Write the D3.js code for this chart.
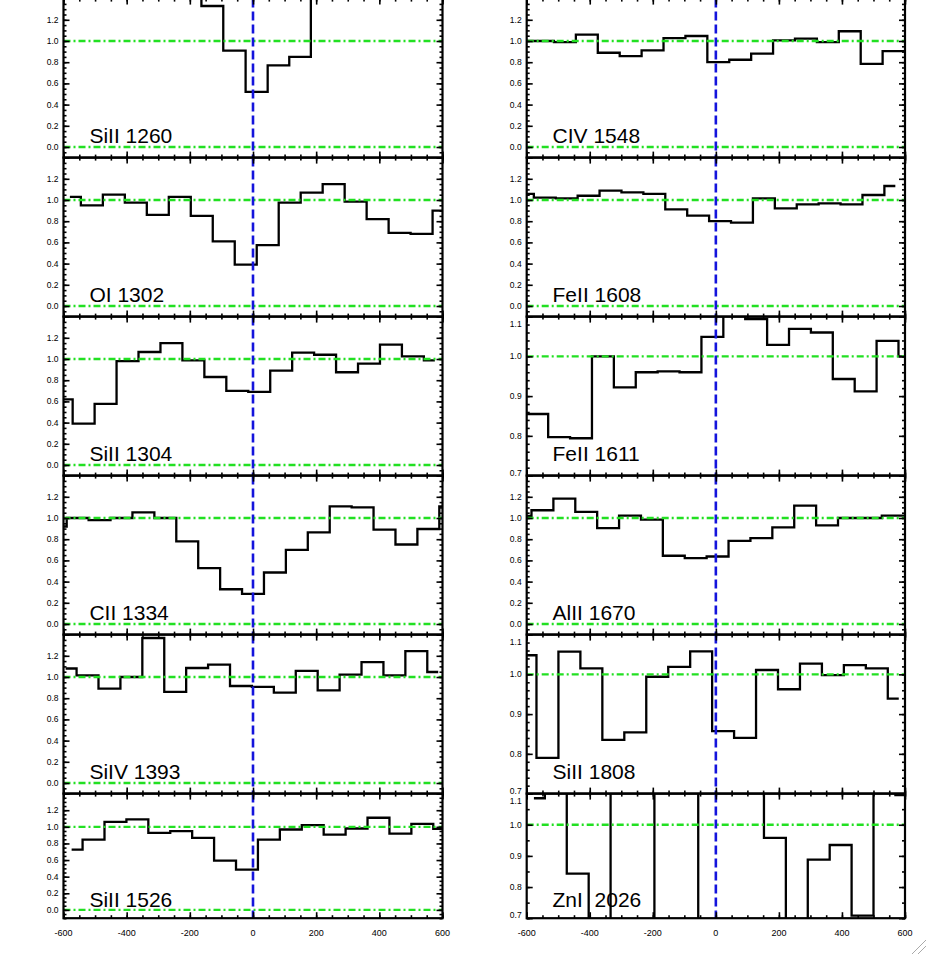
<!DOCTYPE html>
<html><head><meta charset="utf-8">
<script src="https://cdn.jsdelivr.net/npm/d3@7"></script>
<style>body{margin:0;background:#fff;} svg{display:block;}</style>
</head><body>
<script>
// ---------- data ----------
const lineNames = ["SiII 1260","OI 1302","SiII 1304","CII 1334","SiIV 1393","SiII 1526",
                   "CIV 1548","FeII 1608","FeII 1611","AlII 1670","SiII 1808","ZnI  2026"];

const vel_SiII1260 = [-197.4,-129.3,-59.0,12.2,80.7,148.9,217.5];
const flux_SiII1260 = [1.60,1.33,0.91,0.52,0.77,0.85,1.60];

const vel_OI1302 = [-579.8,-510.2,-440.6,-371.0,-301.4,-231.8,-162.2,-92.6,-23.0,46.6,116.2,185.8,255.4,325.0,394.6,464.2,533.8,603.4];
const flux_OI1302 = [1.03,0.95,1.05,0.975,0.86,1.03,0.85,0.61,0.39,0.575,0.975,1.07,1.15,0.985,0.82,0.69,0.68,0.90];

const vel_SiII1304 = [-605.75,-536.25,-466.75,-397.25,-327.75,-258.25,-188.75,-119.25,-49.75,19.75,89.25,158.75,228.25,297.75,367.25,436.75,506.25,575.75];
const flux_SiII1304 = [0.62,0.39,0.577,0.98,1.066,1.15,0.987,0.83,0.70,0.69,0.89,1.06,1.04,0.875,0.956,1.135,1.025,0.987];

const vel_CII1334 = [-624.6,-555.2,-485.8,-416.4,-347.0,-277.6,-208.2,-138.8,-69.4,0,69.4,138.8,208.2,277.6,347.0,416.4,485.8,555.2,624.6];
const flux_CII1334 = [0.92,1.0,0.98,1.0,1.054,1.0,0.78,0.527,0.328,0.284,0.486,0.70,0.864,1.11,1.10,0.89,0.75,0.896,1.11];

const vel_SiIV1393 = [-593.3,-523.9,-454.5,-385.1,-315.7,-246.3,-176.9,-107.5,-38.1,31.3,100.7,170.1,239.5,308.9,378.3,447.7,517.1,586.5];
const flux_SiIV1393 = [1.08,1.016,0.89,1.0,1.368,0.86,1.085,1.116,0.915,0.906,0.852,1.057,0.874,1.022,1.14,1.016,1.245,1.047];

const vel_SiII1526 = [-574.3,-504.9,-435.5,-366.1,-296.7,-227.3,-157.9,-88.5,-19.1,50.3,119.7,189.1,258.5,327.9,397.3,466.7,536.1,605.5];
const flux_SiII1526 = [0.726,0.847,1.06,1.09,0.927,0.948,0.867,0.593,0.484,0.847,0.968,1.02,0.907,0.98,1.109,0.919,1.036,0.976];

const vel_CIV1548 = [-617.75,-548.25,-478.75,-409.25,-339.75,-270.25,-200.75,-131.25,-61.75,7.75,77.25,146.75,216.25,285.75,355.25,424.75,494.25,563.75,633.25];
const flux_CIV1548 = [1.0,1.0,0.99,1.06,0.889,0.858,0.911,1.028,1.047,0.80,0.823,0.88,1.006,1.022,0.99,1.092,0.785,0.905,0.905];

const vel_FeII1608 = [-612.15,-542.65,-473.15,-403.65,-334.15,-264.65,-195.15,-125.65,-56.15,13.35,82.85,152.35,221.85,291.35,360.85,430.35,499.85,569.35];
const flux_FeII1608 = [1.057,1.022,1.016,1.04,1.088,1.072,1.057,0.912,0.852,0.80,0.786,1.016,0.921,0.959,0.969,0.959,1.047,1.132];

const vel_FeII1611 = [-636.05,-566.6,-497.15,-427.7,-358.25,-288.8,-219.35,-149.9,-80.45,-11.0,58.45,127.9,197.35,266.8,336.25,405.7,475.15,544.6,614.05];
const flux_FeII1611 = [0.855,0.855,0.797,0.794,1.0,0.922,0.96,0.962,0.96,1.049,1.105,1.094,1.029,1.069,1.06,0.943,0.912,1.039,1.0];

const vel_AlII1670 = [-619.5,-550.1,-480.6,-411.2,-341.7,-272.3,-202.8,-133.4,-63.9,5.5,75.0,144.4,213.9,283.3,352.8,422.2,491.7,561.1,630.6];
const flux_AlII1670 = [1.02,1.073,1.183,1.057,0.905,1.022,0.984,0.644,0.621,0.637,0.785,0.811,0.912,1.117,0.93,1.0,1.0,1.022,1.022];

const vel_SiII1808 = [-603.8,-534.2,-464.5,-394.9,-325.2,-255.6,-185.9,-116.3,-46.6,23.0,92.7,162.3,232.0,301.6,371.3,440.9,510.6,580.2];
const flux_SiII1808 = [1.048,0.79,1.057,1.015,0.835,0.854,0.994,1.019,1.058,0.857,0.84,1.011,0.9625,1.027,0.998,1.023,1.015,0.939];

const vel_ZnI2026 = [-577.15,-507.65,-438.15,-368.65,-299.15,-229.65,-160.15,-90.65,-21.15,48.35,117.85,187.35,256.85,326.35,395.85,465.35,534.85,604.35];
const flux_ZnI2026 = [1.085,1.25,0.843,0.55,1.25,1.25,0.55,0.55,1.25,1.25,1.25,0.958,0.55,0.888,0.935,0.708,1.25,1.095];

const panelVel  = [vel_SiII1260,vel_OI1302,vel_SiII1304,vel_CII1334,vel_SiIV1393,vel_SiII1526,
                   vel_CIV1548,vel_FeII1608,vel_FeII1611,vel_AlII1670,vel_SiII1808,vel_ZnI2026];
const panelFlux = [flux_SiII1260,flux_OI1302,flux_SiII1304,flux_CII1334,flux_SiIV1393,flux_SiII1526,
                   flux_CIV1548,flux_FeII1608,flux_FeII1611,flux_AlII1670,flux_SiII1808,flux_ZnI2026];
const panelRange = ["wide","wide","wide","wide","wide","wide","wide","wide","narrow","wide","narrow","narrow"];

const velDomain = [-600, 600];
const xTickValues = [-600,-400,-200,0,200,400,600];
const xTickLabels = ["-600","-400","-200","0","200","400","600"];
const yDomainWide = [-0.1, 1.4];
const yDomainNarrow = [0.7, 1.1];
const yMajorWide = [0.0,0.2,0.4,0.6,0.8,1.0,1.2,1.4];
const yLabelsWide = ["0.0","0.2","0.4","0.6","0.8","1.0","1.2"];
const yMajorNarrow = [0.7,0.8,0.9,1.0,1.1];
const yLabelsNarrow = ["0.7","0.8","0.9","1.0","1.1"];
const refLevels = [0.0, 1.0];
const zeroVelocity = 0;

// ---------- layout ----------
const W = 927, H = 955;
const colX = [[63.5, 442.5], [526.7, 905]];
const rowY = [[-1.4,157.6],[157.6,316.6],[316.6,475.6],[475.6,634.6],[634.6,793.6],[793.6,918.2]];
const FONT = "'Liberation Sans', Arial, Helvetica, sans-serif";

const svg = d3.select("body").append("svg").attr("width", W).attr("height", H);
svg.append("rect").attr("width", W).attr("height", H).attr("fill", "#fff");
const defs = svg.append("defs");

lineNames.forEach((name, i) => {
  const col = i < 6 ? 0 : 1, row = i % 6;
  const [x0, x1] = colX[col];
  const [top, bottom] = rowY[row];
  const h = bottom - top;
  const wide = panelRange[i] === "wide";
  const x = d3.scaleLinear().domain(velDomain).range([x0, x1]);
  const y = d3.scaleLinear().domain(wide ? yDomainWide : yDomainNarrow).range([bottom, top]);
  const g = svg.append("g");

  const clipId = "clip" + i;
  defs.append("clipPath").attr("id", clipId).append("rect")
    .attr("x", x0).attr("y", top).attr("width", x1 - x0).attr("height", h);

  // data histogram (IDL psym=10 style)
  const pts = panelVel[i].map((v, k) => [v, panelFlux[i][k]]);
  const line = d3.line().x(d => x(d[0])).y(d => y(d[1])).curve(d3.curveStep);
  g.append("path").attr("d", line(pts)).attr("fill", "none")
    .attr("stroke", "#000").attr("stroke-width", 2.3).attr("stroke-linejoin", "miter")
    .attr("clip-path", `url(#${clipId})`);

  // reference levels
  const dom = y.domain();
  refLevels.filter(r => r >= dom[0] && r <= dom[1]).forEach(r => {
    g.append("line").attr("x1", x0).attr("x2", x1).attr("y1", y(r)).attr("y2", y(r))
      .attr("stroke", "#22e022").attr("stroke-width", 2.4).attr("stroke-dasharray", "7,3,2,3");
  });

  // zero velocity
  g.append("line").attr("x1", x(zeroVelocity)).attr("x2", x(zeroVelocity))
    .attr("y1", top).attr("y2", bottom)
    .attr("stroke", "#1414dc").attr("stroke-width", 2.6).attr("stroke-dasharray", "9,4");

  // ticks
  const xMinor = d3.range(-600, 601, 50);
  const yMajor = wide ? yMajorWide : yMajorNarrow;
  const yMinorStep = wide ? 0.05 : (h < 130 ? 0.05 : 0.02);
  const yMinor = d3.range(dom[0], dom[1] + 1e-6, yMinorStep);
  const tickG = g.append("g");
  const addAxis = (axis, tx, ty) => {
    const a = tickG.append("g").attr("transform", `translate(${tx},${ty})`).call(axis);
    a.select(".domain").remove();
    a.selectAll("line").attr("stroke", "#000").attr("stroke-width", 1.6);
    a.selectAll("text").remove();
  };
  [[xTickValues, 6], [xMinor, 3]].forEach(([vals, len]) => {
    addAxis(d3.axisBottom(x).tickValues(vals).tickSizeInner(-len).tickSizeOuter(0).tickFormat(""), 0, bottom);
    addAxis(d3.axisTop(x).tickValues(vals).tickSizeInner(-len).tickSizeOuter(0).tickFormat(""), 0, top);
  });
  [[yMajor, 6], [yMinor, 3]].forEach(([vals, len]) => {
    addAxis(d3.axisLeft(y).tickValues(vals).tickSizeInner(-len).tickSizeOuter(0).tickFormat(""), x0, 0);
    addAxis(d3.axisRight(y).tickValues(vals).tickSizeInner(-len).tickSizeOuter(0).tickFormat(""), x1, 0);
  });

  // y labels
  const labs = wide ? yLabelsWide : yLabelsNarrow;
  labs.forEach(l => {
    const yy = Math.min(Math.max(y(+l), top + 7), bottom - 3);
    g.append("text").attr("x", x0 - 5).attr("y", yy).attr("dy", "0.35em")
      .attr("text-anchor", "end").attr("font-family", FONT).attr("font-size", 8.5)
      .attr("fill", "#000").text(l);
  });

  // x labels on bottom row
  if (row === 5) {
    xTickValues.forEach((v, k) => {
      g.append("text").attr("x", x(v)).attr("y", 933).attr("dy", "0.35em")
        .attr("text-anchor", "middle").attr("font-family", FONT).attr("font-size", 9)
        .attr("fill", "#000").text(xTickLabels[k]);
    });
  }

  // frame
  g.append("rect").attr("x", x0).attr("y", top).attr("width", x1 - x0).attr("height", h)
    .attr("fill", "none").attr("stroke", "#000").attr("stroke-width", 2.2);

  // ion label
  g.append("text").attr("x", x(-518)).attr("y", bottom - 0.09 * h)
    .attr("font-family", FONT).attr("font-size", 21).attr("fill", "#000")
    .style("white-space", "pre").text(name);
});

// window resize grip
const grip = svg.append("g").attr("stroke", "#aaa").attr("stroke-width", 1);
grip.append("line").attr("x1", 912).attr("y1", 954).attr("x2", 926).attr("y2", 940);
grip.append("line").attr("x1", 918).attr("y1", 954).attr("x2", 926).attr("y2", 946);
</script>
</body></html>
